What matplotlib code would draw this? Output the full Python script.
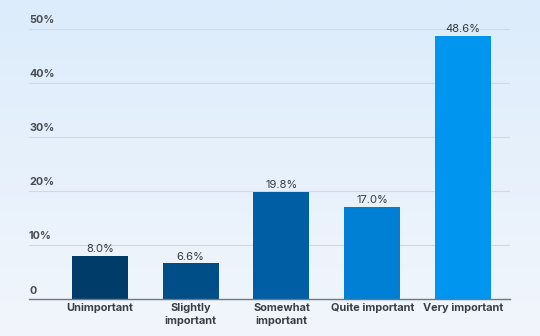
import numpy as np
import matplotlib.pyplot as plt
from matplotlib.colors import LinearSegmentedColormap

# data
categories = ["Unimportant", "Slightly\nimportant", "Somewhat\nimportant",
              "Quite important", "Very important"]
values = [8.0, 6.6, 19.8, 17.0, 48.6]
yticks = [0, 10, 20, 30, 40, 50]
bar_colors = ["#003c6a", "#004e88", "#005ea5", "#0080d4", "#0096f0"]

plt.rcParams['font.family'] = ['Inter', 'DejaVu Sans']

fig = plt.figure(figsize=(5.4, 3.36), dpi=100)

# background gradient
bg = fig.add_axes([0, 0, 1, 1], zorder=0)
grad = np.linspace(0, 1, 256).reshape(-1, 1)
cmap = LinearSegmentedColormap.from_list("bg", ["#dcecfc", "#f2f6fb"])
bg.imshow(grad, aspect="auto", cmap=cmap, extent=[0, 1, 0, 1], origin="upper")
bg.axis("off")

ax = fig.add_axes([29/540, 37/336, 481/540, 281.3/336], zorder=1)
ax.patch.set_alpha(0)

x = np.arange(len(categories))
bars = ax.bar(x, values, width=0.617, color=bar_colors, zorder=3)

for xi, v in zip(x, values):
    ax.annotate(f"{v:.1f}%", (xi, v), xytext=(0, 1.2), textcoords="offset points",
                ha="center", va="bottom", fontsize=8.0, color="#333a40")

ax.set_xlim(-0.782, 4.518)
ax.set_ylim(0, 52)

# gridlines and y labels above them
for t in yticks:
    if t > 0:
        ax.axhline(t, color="#cfdae6", lw=0.8, zorder=1)
    lab = "0" if t == 0 else f"{t}%"
    ax.annotate(lab, (0, t), xycoords=ax.get_yaxis_transform(), xytext=(0, 2.5),
                textcoords="offset points", ha="left", va="bottom",
                fontsize=7.8, fontweight="bold", color="#474c52")

ax.set_yticks([])
ax.set_xticks(x)
ax.set_xticklabels(categories, fontsize=7.9, fontweight="bold", color="#3a3f45",
                   linespacing=1.3)
ax.tick_params(axis="x", length=0, pad=3)

for s in ["top", "right", "left"]:
    ax.spines[s].set_visible(False)
ax.spines["bottom"].set_color("#6f7882")
ax.spines["bottom"].set_linewidth(1.0)
ax.spines["bottom"].set_zorder(4)

fig.savefig("out.png", dpi=100)
